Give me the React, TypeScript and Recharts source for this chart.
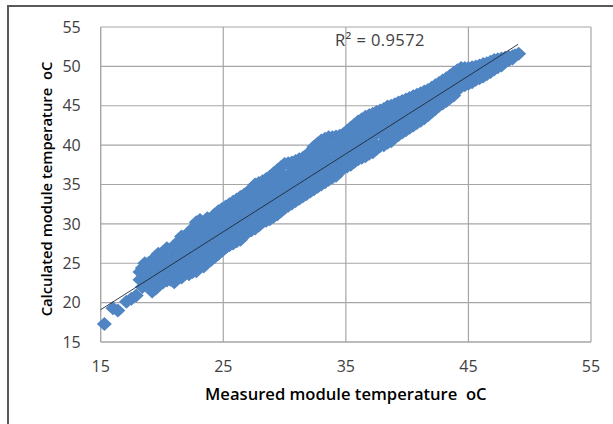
import React from "react";
import { ScatterChart, Scatter, XAxis, YAxis, CartesianGrid, Label } from "recharts";

const xTicks = [15, 25, 35, 45, 55];
const yTicks = [15, 20, 25, 30, 35, 40, 45, 50, 55];

// each column: measured temperature, then the calculated temperatures read at it
const columns15to20 = [
  [15.3, 17.3], [16.0, 19.3], [16.4, 19.0], [17.1, 20.1], [17.5, 20.5], [17.9, 20.9],
  [18.2, 23.9, 22.9], [18.4, 24.4, 23.2, 22.0], [18.6, 25.0, 23.6], [18.9, 25.0, 23.8, 22.4],
  [19.2, 25.4, 24.0, 22.6, 21.4], [19.5, 25.6, 24.4, 23.0, 21.8], [19.7, 26.2, 24.8, 23.4, 22.2],
];
const columns20to25 = [
  [20.1, 26.4, 25.0, 23.6, 22.6], [20.4, 26.9, 25.2, 23.8, 22.8], [20.7, 26.8, 25.5, 24.1, 22.9],
  [21.0, 27.2, 25.8, 24.4, 22.6], [21.3, 27.7, 26.3, 24.9, 23.5], [21.6, 28.4, 26.8, 25.4, 24.0, 23.2],
  [21.9, 28.5, 27.1, 25.7, 24.3], [22.2, 28.9, 27.4, 26.0, 24.6, 23.6], [22.5, 29.4, 28.1, 26.7, 25.3, 23.9],
  [22.8, 30.2, 28.8, 27.4, 26.0, 24.6, 24.0], [23.1, 30.5, 29.0, 27.6, 26.2, 24.8],
  [23.4, 30.2, 29.2, 27.8, 26.4, 25.0, 24.6], [23.7, 30.7, 29.4, 28.0, 26.6, 25.4],
  [24.0, 30.4, 29.6, 28.2, 26.8, 25.4], [24.3, 31.2, 29.9, 28.5, 27.1, 25.8],
  [24.6, 31.6, 30.2, 28.8, 27.4, 26.2], [24.9, 31.9, 30.5, 29.1, 27.7, 26.6],
];
const columns25to30 = [
  [25.2, 32.2, 30.8, 29.4, 28.0, 27.0], [25.5, 32.5, 31.1, 29.7, 28.3, 27.3], [25.8, 32.8, 31.4, 30.0, 28.6, 27.5],
  [26.1, 33.1, 31.7, 30.3, 28.9, 27.8], [26.4, 33.4, 32.0, 30.6, 29.2, 28.0], [26.7, 33.7, 32.3, 30.9, 29.5, 28.5],
  [27.0, 34.0, 32.6, 31.2, 29.8, 29.0], [27.3, 34.5, 33.0, 31.6, 30.2, 29.2], [27.6, 35.0, 33.4, 32.0, 30.6, 29.4],
  [27.9, 35.2, 33.7, 32.3, 30.9, 29.8], [28.2, 35.4, 34.0, 32.6, 31.2, 30.2], [28.5, 35.7, 34.3, 32.9, 31.5, 30.4],
  [28.8, 36.0, 34.6, 33.2, 31.8, 30.6], [29.1, 36.4, 35.0, 33.6, 32.2, 30.9], [29.4, 36.8, 35.4, 34.0, 32.6, 31.2],
  [29.7, 37.2, 35.7, 34.3, 32.9, 31.6],
];
const columns30to35 = [
  [30.0, 37.6, 36.0, 34.6, 33.2, 32.0], [30.3, 37.7, 36.2, 34.8, 33.4, 32.3], [30.6, 37.8, 36.4, 35.0, 33.6, 32.6],
  [30.9, 38.0, 36.6, 35.2, 33.8, 32.9], [31.2, 38.2, 36.8, 35.4, 34.0, 33.2], [31.5, 38.4, 37.0, 35.6, 34.2, 33.5],
  [31.8, 38.6, 37.2, 35.8, 34.4, 33.8], [32.1, 39.2, 37.8, 36.4, 35.0, 34.1], [32.4, 39.8, 38.4, 37.0, 35.6, 34.4],
  [32.7, 40.2, 38.8, 37.4, 36.0, 34.7], [33.0, 40.6, 39.2, 37.8, 36.4, 35.0], [33.3, 40.8, 39.4, 38.0, 36.6, 35.3],
  [33.6, 41.0, 39.6, 38.2, 36.8, 35.6], [33.9, 41.0, 39.6, 38.2, 36.9, 35.9], [34.2, 41.1, 39.7, 38.3, 37.0, 36.1],
  [34.5, 41.2, 39.8, 38.4, 37.1, 36.6], [34.8, 41.4, 40.0, 38.6, 37.2],
];
const columns35to40 = [
  [35.1, 41.8, 40.4, 39.0, 37.6, 37.3], [35.4, 42.2, 40.8, 39.4, 38.0, 37.5], [35.7, 42.6, 41.2, 39.8, 38.4, 37.9],
  [36.0, 43.0, 41.6, 40.2, 38.8, 38.2], [36.3, 43.3, 41.9, 40.5, 39.1, 38.4], [36.6, 43.6, 42.2, 40.8, 39.4, 38.6],
  [36.9, 43.8, 42.4, 41.0, 39.6, 38.9], [37.2, 44.0, 42.6, 41.2, 39.8, 39.1], [37.5, 44.2, 42.8, 41.4, 40.0, 39.5],
  [37.8, 44.4, 43.0, 41.6, 39.9], [38.1, 44.6, 43.2, 41.8, 40.4, 40.0], [38.4, 44.9, 43.5, 42.1, 40.7, 40.3],
  [38.7, 45.0, 43.6, 42.2, 40.8, 40.5], [39.0, 45.2, 43.8, 42.4, 41.0], [39.3, 45.4, 44.0, 42.6, 41.3],
  [39.6, 45.6, 44.2, 42.8, 41.6], [39.9, 45.8, 44.4, 43.0, 41.9],
];
const columns40to45 = [
  [40.2, 46.0, 44.6, 43.2, 42.2], [40.5, 46.2, 44.8, 43.4, 42.5], [40.8, 46.4, 45.0, 43.6, 42.8],
  [41.1, 46.6, 45.2, 43.8, 43.1], [41.4, 46.8, 45.4, 44.0, 43.4], [41.7, 47.0, 45.7, 44.3, 43.8],
  [42.0, 47.3, 46.0, 44.6, 44.2], [42.3, 47.6, 46.2, 44.9, 44.6], [42.6, 47.9, 46.5, 45.2, 45.0],
  [42.9, 48.2, 46.8, 45.6, 45.3], [43.2, 48.5, 47.2, 46.0, 45.6], [43.5, 48.8, 47.5, 46.3, 46.0],
  [43.8, 49.2, 47.9, 46.6, 46.3], [44.1, 49.5, 48.2, 47.0], [44.4, 49.8, 48.4, 47.4], [44.7, 49.8, 48.5, 47.6],
];
const columns45to50 = [
  [45.0, 49.8, 48.6, 47.8], [45.3, 49.9, 48.8, 48.0], [45.6, 50.0, 49.0, 48.3], [45.9, 50.1, 49.1, 48.5],
  [46.2, 50.3, 49.3, 48.7], [46.5, 50.4, 49.5, 49.0], [46.8, 50.6, 49.8, 49.3], [47.1, 50.8, 50.0, 49.6],
  [47.4, 50.9, 50.2, 49.9], [47.7, 51.0, 50.4, 50.1], [48.0, 51.1, 50.6], [48.3, 51.2, 50.8],
  [48.6, 51.3, 51.0], [48.8, 51.4], [49.1, 51.6],
];

const trendMeasured = [15, 49.05];
const trendCalculated = [19.1, 52.8];

const points = [
  ...columns15to20, ...columns20to25, ...columns25to30, ...columns30to35,
  ...columns35to40, ...columns40to45, ...columns45to50,
].flatMap(([x, ...ys]) => ys.map((y) => ({ x, y })));

const trend = trendMeasured.map((x, i) => ({ x, y: trendCalculated[i] }));

const Marker = (props: any) => {
  const { cx, cy } = props;
  return (
    <polygon
      points={`${cx - 7.5},${cy} ${cx},${cy - 7} ${cx + 7.5},${cy} ${cx},${cy + 7}`}
      fill="#5085C3"
    />
  );
};

const font = "'Open Sans', sans-serif";
const tick = { fill: "#404040", fontSize: 16, fontFamily: font };

export default function App() {
  return (
    <div style={{ position: "absolute", left: 0, top: 0, width: 613, height: 424, overflow: "hidden", background: "#fff" }}>
      <div style={{ position: "absolute", left: 0, top: 0 }}>
        <ScatterChart width={613} height={424} margin={{ top: 27, right: 22, bottom: 0, left: 0 }}>
          <CartesianGrid stroke="#a6a6a6" strokeWidth={1.2} />
          <XAxis
            type="number"
            dataKey="x"
            domain={[15, 55]}
            ticks={xTicks}
            interval={0}
            height={82}
            tickLine={false}
            tickMargin={13}
            stroke="#a6a6a6"
            tick={tick}
          >
            <Label
              value={"Measured module temperature\u00a0 oC"}
              position="insideBottom"
              offset={24}
              style={{ fill: "#000", fontSize: 16.6, fontWeight: 600, fontFamily: font }}
            />
          </XAxis>
          <YAxis
            type="number"
            dataKey="y"
            domain={[15, 55]}
            ticks={yTicks}
            interval={0}
            width={100.7}
            tickLine={false}
            tickMargin={14}
            stroke="#a6a6a6"
            tick={tick}
          >
            <Label
              value={"Calculated module temperature\u00a0 oC"}
              angle={-90}
              position="center"
              dx={-4}
              dy={4.5}
              style={{ fill: "#000", fontSize: 14.8, fontWeight: 600, fontFamily: font }}
            />
          </YAxis>
          <Scatter data={points} shape={Marker} isAnimationActive={false} />
          <Scatter
            data={trend}
            line={{ stroke: "#1f2a36", strokeWidth: 0.9 }}
            shape={() => <g />}
            isAnimationActive={false}
          />
        </ScatterChart>
      </div>
      <div
        style={{
          position: "absolute",
          left: 7,
          top: 5,
          width: 640,
          height: 450,
          borderLeft: "2px solid #595959",
          borderTop: "2px solid #595959",
          pointerEvents: "none",
        }}
      />
      <div
        style={{
          position: "absolute",
          left: 335,
          top: 29,
          fontFamily: font,
          fontSize: 16.5,
          letterSpacing: 0.4,
          lineHeight: "22px",
          color: "#404040",
        }}
      >
        R² = 0.9572
      </div>
    </div>
  );
}
